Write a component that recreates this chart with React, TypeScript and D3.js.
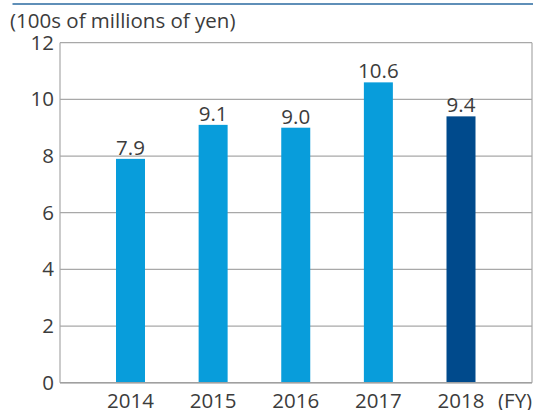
import React from "react";
import * as d3 from "d3";

const categories = ["2014", "2015", "2016", "2017", "2018"];
const values = [7.9, 9.1, 9.0, 10.6, 9.4];
const valueLabels = ["7.9", "9.1", "9.0", "10.6", "9.4"];
const yTicks = [0, 2, 4, 6, 8, 10, 12];
const unitLabel = "(100s of millions of yen)";
const fyLabel = "(FY)";

const W = 538;
const H = 410;
const left = 60;
const right = 532;
const top = 42.7;
const bottom = 382.7;

export default function App() {
  const y = d3.scaleLinear().domain([0, 12]).range([bottom, top]);
  const x = d3.scalePoint<string>().domain(categories).range([130.5, 461]);
  const bw = 29;
  const font = "'Open Sans', 'Noto Sans', sans-serif";
  const fs = 20.5;
  const tc = "#3c3c3c";
  return (
    <svg width={W} height={H} style={{ position: "absolute", left: 0, top: 0 }}>
      <rect width={W} height={H} fill="#fff" />
      <line x1={12.5} x2={533} y1={4} y2={4} stroke="#2a6aa0" strokeWidth={1.5} />
      <text x={10} y={28} fontFamily={font} fontSize={fs} fill={tc}>{unitLabel}</text>
      {yTicks.map((t) => (
        <g key={t}>
          <line x1={left} x2={right} y1={y(t)} y2={y(t)} stroke="#a8a8a8" strokeWidth={1.2} />
          <text x={54} y={y(t) + 7} textAnchor="end" fontFamily={font} fontSize={fs} fill={tc}>{t}</text>
        </g>
      ))}
      <line x1={left} x2={left} y1={top} y2={bottom} stroke="#a8a8a8" strokeWidth={1.2} />
      <line x1={right} x2={right} y1={top} y2={bottom} stroke="#a8a8a8" strokeWidth={1.2} />
      {categories.map((c, i) => (
        <g key={c}>
          <rect x={(x(c) as number) - bw / 2} y={y(values[i])} width={bw} height={bottom - y(values[i])}
            fill={i === categories.length - 1 ? "#004a8c" : "#089ddb"} />
          <text x={x(c)} y={y(values[i]) - 4} textAnchor="middle" fontFamily={font} fontSize={fs} fill={tc}>{valueLabels[i]}</text>
          <text x={x(c)} y={408} textAnchor="middle" fontFamily={font} fontSize={fs} fill={tc}>{c}</text>
        </g>
      ))}
      <line x1={left} x2={right} y1={bottom} y2={bottom} stroke="#a0a0a0" strokeWidth={1.5} />
      <text x={498} y={408} fontFamily={font} fontSize={fs} fill={tc}>{fyLabel}</text>
    </svg>
  );
}
